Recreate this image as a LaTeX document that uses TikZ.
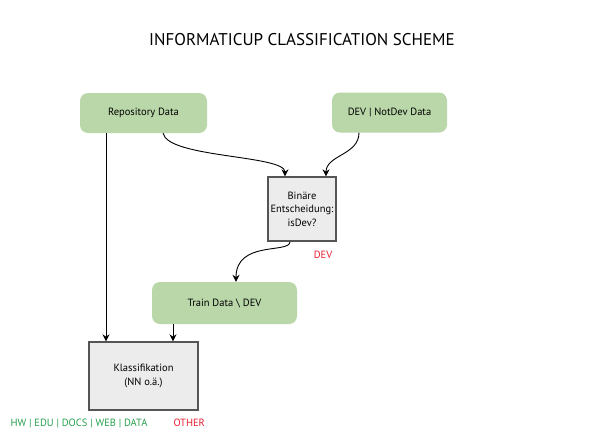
\documentclass[tikz,border=0pt]{standalone}
\usepackage{fontspec}
\setmainfont{PT Sans}
\usepackage{tikz}
\usetikzlibrary{positioning,arrows.meta}

\definecolor{boxgreen}{RGB}{185,215,168}
\definecolor{boxgray}{RGB}{236,236,236}
\definecolor{linegray}{RGB}{85,85,85}
\definecolor{txtgreen}{RGB}{40,160,80}
\definecolor{txtred}{RGB}{230,30,50}

\tikzset{
	databox/.style={fill=boxgreen, rounded corners=8pt, minimum width=127pt, minimum height=40pt, font=\fontsize{10.5}{12}\selectfont},
	stepbox/.style={draw=linegray, line width=1.3pt, fill=boxgray, align=center, inner sep=0pt, font=\fontsize{10.5}{13.5}\selectfont},
	flow/.style={-{Stealth[length=7pt,width=7pt]}, line width=0.9pt}
}

\begin{document}
\begin{tikzpicture}[x=1pt, y=-1pt]
			\useasboundingbox (0,0) rectangle (595,445);
			\node (title) at (302,40) {\fontsize{17}{20}\selectfont INFORMATICUP CLASSIFICATION SCHEME};
			\node [databox] (repo) at (143.5,113) {Repository Data};
			\node [databox, minimum width=115pt] (devdata) at (389.5,112.5) {DEV | NotDev Data};
			\node [stepbox, minimum width=68pt, minimum height=64pt] (binaer) at (302,209) {Binäre\\Entscheidung:\\isDev?};
			\node [databox, minimum width=145pt, minimum height=42pt] (train) at (224.5,303) {Train Data \textbackslash{} DEV};
			\node [stepbox, minimum width=109pt, minimum height=68pt] (klass) at (143.5,376) {Klassifikation\\(NN o.ä.)};
			\node [text=txtred, font=\fontsize{10.5}{12}\selectfont] (dev) at (323,255) {DEV};
			\node [text=txtgreen, font=\fontsize{10.5}{12}\selectfont, anchor=west] (classes) at (7,423) {HW | EDU | DOCS | WEB | DATA};
			\node [text=txtred, font=\fontsize{10.5}{12}\selectfont, anchor=west] (other) at (170,423) {OTHER};
			% connectors
			\draw[flow] (repo.south -| 163,0) .. controls (168,158) and (285,155) .. (binaer.north -| 285,0);
			\draw[flow] (devdata.south -| 359,0) .. controls (359,155) and (326,155) .. (binaer.north -| 326,0);
			\draw[flow] (binaer.south -| 290,0) .. controls (290,254) and (236,240) .. (train.north -| 236,0);
			\draw[flow] (repo.south -| 106,0) -- (klass.north -| 106,0);
			\draw[flow] (train.south -| 173,0) -- (klass.north -| 173,0);
	\end{tikzpicture}
\end{document}
